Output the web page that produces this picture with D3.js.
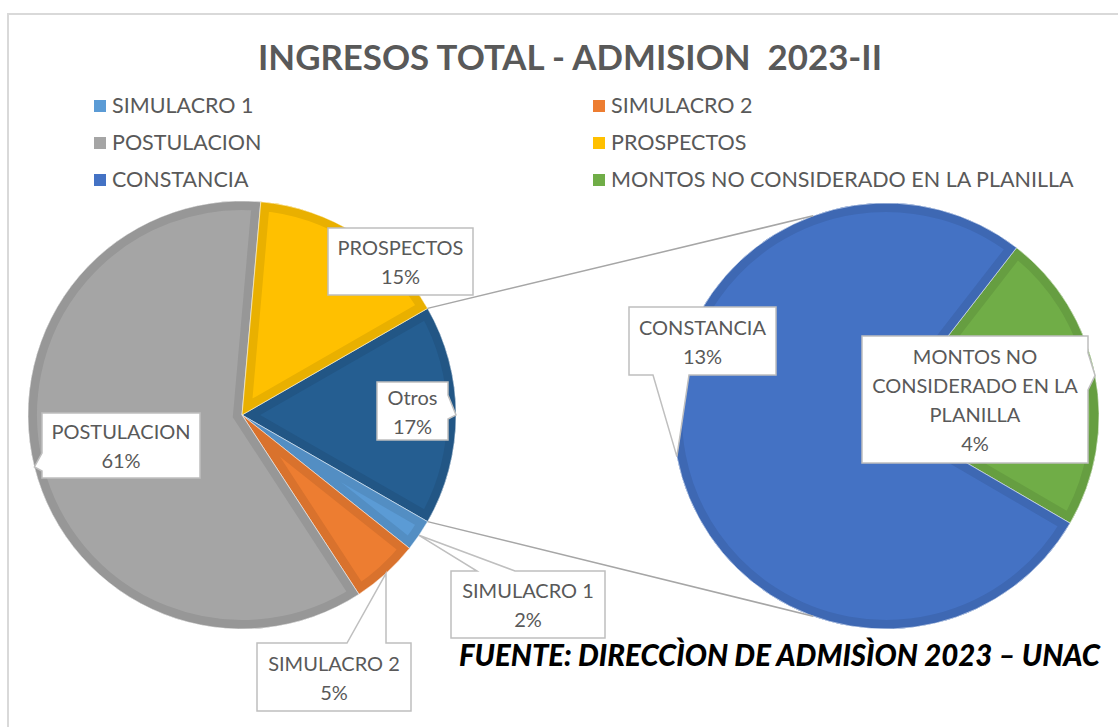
<!DOCTYPE html>
<html lang="es">
<head>
<meta charset="UTF-8">
<title>Ingresos total - Admision 2023-II</title>
<style>
    body { margin: 0; background: #fff; }
    svg { display: block; font-family: Lato, "Open Sans", sans-serif; }
</style>
</head>
<body>
<svg id="chart" width="1118" height="727"></svg>
<script src="https://d3js.org/d3.v7.min.js"></script>
<script>
    // Datos
    const categories = ["SIMULACRO 1", "SIMULACRO 2", "POSTULACION", "PROSPECTOS", "CONSTANCIA", "MONTOS NO CONSIDERADO EN LA PLANILLA"];
    const values = [2.4, 5.1, 60.6, 15.3, 12.8, 3.8];
    const colors = ["#5b9bd5", "#ed7d31", "#a5a5a5", "#ffc000", "#4472c4", "#70ad47"];
    const secondaryCats = ["CONSTANCIA", "MONTOS NO CONSIDERADO EN LA PLANILLA"];
    const otrosName = "Otros";
    const otrosColor = "#255e91";
    const mainOrder = ["Otros", "SIMULACRO 1", "SIMULACRO 2", "POSTULACION", "PROSPECTOS"];
    const secondOrder = ["MONTOS NO CONSIDERADO EN LA PLANILLA", "CONSTANCIA"];

    const svg = d3.select("#chart");
    const deg = Math.PI / 180;
    const total = d3.sum(values);
    const valueOf = name => name === otrosName
        ? d3.sum(secondaryCats, c => values[categories.indexOf(c)])
        : values[categories.indexOf(name)];
    const colorOf = name => name === otrosName ? otrosColor : colors[categories.indexOf(name)];
    const pct = v => Math.round(v / total * 100) + "%";

    // marco
    svg.append("rect").attr("x", 8).attr("y", 14).attr("width", 1200).attr("height", 800)
        .attr("fill", "none").attr("stroke", "#d9d9d9").attr("stroke-width", 2);

    svg.append("text").attr("x", 570).attr("y", 70).attr("text-anchor", "middle")
        .attr("font-size", 34).attr("font-weight", "bold").attr("fill", "#595959")
        .attr("textLength", 624).attr("lengthAdjust", "spacingAndGlyphs")
        .style("white-space", "pre").text("INGRESOS TOTAL - ADMISION  2023-II");

    // leyenda
    const legend = svg.append("g");
    categories.forEach((c, i) => {
        const lx = i % 2 === 0 ? 94 : 593, ly = 106 + Math.floor(i / 2) * 37;
        legend.append("rect").attr("x", lx).attr("y", ly - 6).attr("width", 12).attr("height", 12).attr("fill", colors[i]);
        legend.append("text").attr("x", lx + 18).attr("y", ly + 7).attr("font-size", 21.5)
            .attr("fill", "#595959").text(c);
    });

    // pies
    const L = { cx: 242, cy: 415, r: 214 };
    const R = { cx: 886, cy: 416, r: 213 };
    const otrosSpan = valueOf(otrosName) / total * 2 * Math.PI;
    const pieL = d3.pie().sort(null).value(d => valueOf(d))
        .startAngle(90 * deg - otrosSpan / 2).endAngle(90 * deg - otrosSpan / 2 + 2 * Math.PI);
    const montosSpan = valueOf(secondOrder[0]) / valueOf(otrosName) * 2 * Math.PI;
    const pieR = d3.pie().sort(null).value(d => valueOf(d))
        .startAngle(79 * deg - montosSpan / 2).endAngle(79 * deg - montosSpan / 2 + 2 * Math.PI);
    const arcL = d3.arc().innerRadius(0).outerRadius(L.r);
    const arcR = d3.arc().innerRadius(0).outerRadius(R.r);
    const defs = svg.append("defs");
    const tips = {};
    let clipN = 0;

    function drawPie(P, arcs, arc) {
        const g = svg.append("g").attr("transform", `translate(${P.cx},${P.cy})`);
        arcs.forEach(a => {
            const id = "clip" + (clipN++);
            defs.append("clipPath").attr("id", id).append("path").attr("d", arc(a));
            const c = colorOf(a.data);
            g.append("path").attr("d", arc(a)).attr("fill", c);
            g.append("path").attr("d", arc(a)).attr("fill", "none")
                .attr("stroke", d3.color(c).darker(0.25)).attr("stroke-width", 18)
                .attr("stroke-miterlimit", 10).attr("clip-path", `url(#${id})`);
            g.append("path").attr("d", arc(a)).attr("fill", "none")
                .attr("stroke", "#fff").attr("stroke-opacity", 0.7).attr("stroke-width", 0.8);
            const m = (a.startAngle + a.endAngle) / 2;
            tips[a.data] = [P.cx + P.r * Math.sin(m), P.cy - P.r * Math.cos(m)];
        });
    }
    const arcsL = pieL(mainOrder);
    const arcsR = pieR(secondOrder);
    drawPie(L, arcsL, arcL);
    drawPie(R, arcsR, arcR);

    // conectores
    const otrosArc = arcsL[0];
    const pt = (P, a) => [P.cx + P.r * Math.sin(a), P.cy - P.r * Math.cos(a)];
    const connectors = [[pt(L, otrosArc.startAngle), pt(R, -20 * deg)], [pt(L, otrosArc.endAngle), pt(R, 200 * deg)]];
    svg.append("g").selectAll("line").data(connectors).join("line")
        .attr("x1", d => d[0][0]).attr("y1", d => d[0][1])
        .attr("x2", d => d[1][0]).attr("y2", d => d[1][1])
        .attr("stroke", "#a6a6a6").attr("stroke-width", 1.5);

    // etiquetas (posición de las cajas)
    const labelBoxes = {
        "PROSPECTOS": { x: 328, y: 228, w: 145, h: 67, side: null },
        "POSTULACION": { x: 42, y: 413, w: 158, h: 65, side: "left", b: [453, 471] },
        "Otros": { x: 377, y: 382, w: 71, h: 58, side: "right", b: [395, 419] },
        "SIMULACRO 1": { x: 451, y: 571, w: 154, h: 67, side: "top", b: [477, 515] },
        "SIMULACRO 2": { x: 257, y: 643, w: 154, h: 68, side: "top", b: [347, 386] },
        "CONSTANCIA": { x: 629, y: 307, w: 147, h: 68, side: "bottom", b: [653, 689] },
        "MONTOS NO CONSIDERADO EN LA PLANILLA": { x: 862, y: 336, w: 226, h: 127, side: "right", b: [353, 390] }
    };

    function boxPath(bx, tip) {
        const { x, y, w, h, side, b } = bx;
        const t = tip.join(",");
        if (side === "top") return `M${x},${y}L${b[0]},${y}L${t}L${b[1]},${y}L${x + w},${y}L${x + w},${y + h}L${x},${y + h}Z`;
        if (side === "bottom") return `M${x},${y}L${x + w},${y}L${x + w},${y + h}L${b[1]},${y + h}L${t}L${b[0]},${y + h}L${x},${y + h}Z`;
        if (side === "left") return `M${x},${y}L${x + w},${y}L${x + w},${y + h}L${x},${y + h}L${x},${b[1]}L${t}L${x},${b[0]}Z`;
        if (side === "right") return `M${x},${y}L${x + w},${y}L${x + w},${b[0]}L${t}L${x + w},${b[1]}L${x + w},${y + h}L${x},${y + h}Z`;
        return `M${x},${y}h${w}v${h}h${-w}Z`;
    }

    const labels = svg.append("g");
    Object.keys(labelBoxes).forEach(name => {
        const bx = labelBoxes[name];
        const tip = tips[name].map(v => +v.toFixed(1));
        labels.append("path").attr("d", boxPath(bx, tip)).attr("fill", "#fff")
            .attr("stroke", "#bfbfbf").attr("stroke-width", 1.5).attr("stroke-linejoin", "miter");
        // ajustar el texto en líneas
        const words = name.split(" ");
        const lines = [];
        const probe = labels.append("text").attr("font-size", 20);
        let cur = "";
        words.forEach(wd => {
            const test = cur ? cur + " " + wd : wd;
            probe.text(test);
            if (cur && probe.node().getComputedTextLength() > bx.w - 14) { lines.push(cur); cur = wd; }
            else cur = test;
        });
        lines.push(cur);
        probe.remove();
        lines.push(pct(valueOf(name)));
        const lh = 29, cy = bx.y + bx.h / 2;
        lines.forEach((ln, i) => {
            labels.append("text").attr("x", bx.x + bx.w / 2)
                .attr("y", cy + (i - (lines.length - 1) / 2) * lh + 8)
                .attr("text-anchor", "middle").attr("font-size", 20).attr("fill", "#595959").text(ln);
        });
    });

    svg.append("text").attr("x", 459).attr("y", 666).attr("font-size", 30)
        .attr("font-weight", "900").attr("font-style", "italic").attr("fill", "#000")
        .attr("textLength", 641).attr("lengthAdjust", "spacingAndGlyphs")
        .text("FUENTE: DIRECCÌON DE ADMISÌON 2023 – UNAC");
</script>
</body>
</html>
